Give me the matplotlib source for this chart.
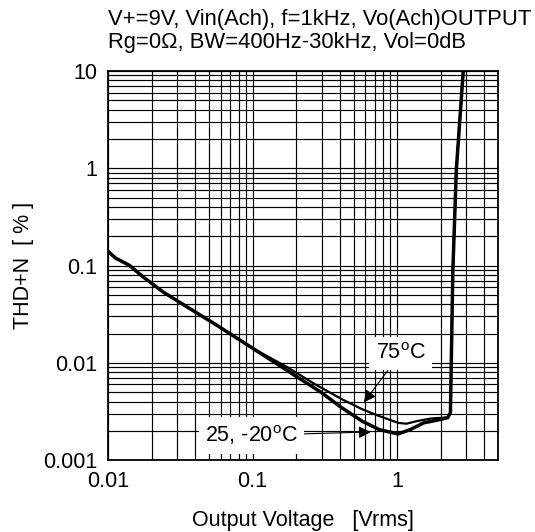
import matplotlib
matplotlib.use('Agg')
import matplotlib.pyplot as plt
import numpy as np

plt.rcParams['font.family'] = ['Liberation Sans', 'DejaVu Sans']
plt.rcParams['mathtext.fontset'] = 'custom'
plt.rcParams['mathtext.rm'] = 'Liberation Sans'

# 25, -20 degC curve (lower, thick)
v_cold = [0.01, 0.0113, 0.014, 0.0175, 0.0242, 0.0374, 0.058, 0.1, 0.1725,
          0.298, 0.413, 0.573, 0.753, 1.016, 1.23, 1.53, 1.85, 2.24, 2.34,
          2.43, 2.57, 2.87]
thd_cold = [0.14, 0.119, 0.101, 0.0764, 0.0532, 0.0356, 0.0238, 0.01415,
            0.0084, 0.00498, 0.00347, 0.00252, 0.00206, 0.00186, 0.00206,
            0.00242, 0.00256, 0.00273, 0.00308, 0.086, 0.96, 10.0]

# 75 degC curve (upper in the 0.2-1.5 V range)
v_hot = [0.01, 0.0113, 0.014, 0.0175, 0.0242, 0.0374, 0.058, 0.1, 0.1725,
         0.267, 0.413, 0.573, 0.753, 1.016, 1.16, 1.37, 1.71, 2.24, 2.34,
         2.43, 2.57, 2.87]
thd_hot = [0.14, 0.119, 0.101, 0.0764, 0.0532, 0.0356, 0.0238, 0.01415,
           0.0091, 0.0061, 0.00425, 0.00334, 0.00284, 0.00242, 0.00237,
           0.00252, 0.00268, 0.00275, 0.00308, 0.086, 0.96, 10.0]

xticks = [0.01, 0.1, 1]
xticklabels = ['0.01', '0.1', '1']
yticks = [0.001, 0.01, 0.1, 1, 10]
yticklabels = ['0.001', '0.01', '0.1', '1', '10']

fig = plt.figure(figsize=(5.35, 5.32), dpi=100)
ax = fig.add_axes([0.202, 0.135, 0.729, 0.7315])

ax.set_xscale('log')
ax.set_yscale('log')
ax.set_xlim(0.01, 5)
ax.set_ylim(0.001, 10)

ax.plot(v_hot, thd_hot, color='black', lw=1.6, zorder=3)
ax.plot(v_cold, thd_cold, color='black', lw=2.5, zorder=3)

ax.set_xticks(xticks)
ax.set_xticklabels(xticklabels)
ax.set_yticks(yticks)
ax.set_yticklabels(yticklabels)
ax.xaxis.set_minor_locator(matplotlib.ticker.LogLocator(base=10, subs=np.arange(2, 10)))
ax.yaxis.set_minor_locator(matplotlib.ticker.LogLocator(base=10, subs=np.arange(2, 10)))
ax.xaxis.set_minor_formatter(matplotlib.ticker.NullFormatter())
ax.yaxis.set_minor_formatter(matplotlib.ticker.NullFormatter())
ax.tick_params(which='both', length=0, labelsize=15.5)
ax.tick_params(axis='x', pad=8)
ax.tick_params(axis='y', pad=8)
ax.grid(which='both', color='black', lw=0.85, zorder=1)
for s in ax.spines.values():
    s.set_linewidth(1.3)

ax.set_xlabel('Output Voltage   [Vrms]', fontsize=15.5, labelpad=13)
ax.set_ylabel('THD+N  [ % ]', fontsize=15.5, labelpad=6)

fig.text(0.202, 1 - 9 / 532,
         'V+=9V, Vin(Ach), f=1kHz, Vo(Ach)OUTPUT\nRg=0\u03a9, BW=400Hz-30kHz, Vol=0dB',
         ha='left', va='top', fontsize=15.8, linespacing=1.15)

box = dict(boxstyle='square,pad=0.3', fc='white', ec='none')
ax.annotate('75$^{\\mathrm{o}}$C', xy=(0.589, 0.00392), xytext=(1.057, 0.0125),
            ha='center', va='center', fontsize=15.5, bbox=box, zorder=5,
            arrowprops=dict(arrowstyle='-|>', color='black', lw=0.8,
                            mutation_scale=18, shrinkA=0, shrinkB=0))
ax.annotate('25, -20$^{\\mathrm{o}}$C', xy=(0.658, 0.00195), xytext=(0.0984, 0.0018),
            ha='center', va='center', fontsize=15.5, bbox=box, zorder=5,
            arrowprops=dict(arrowstyle='-|>', color='black', lw=0.8,
                            mutation_scale=18, shrinkA=0, shrinkB=0))

fig.savefig('out.png', dpi=100)
